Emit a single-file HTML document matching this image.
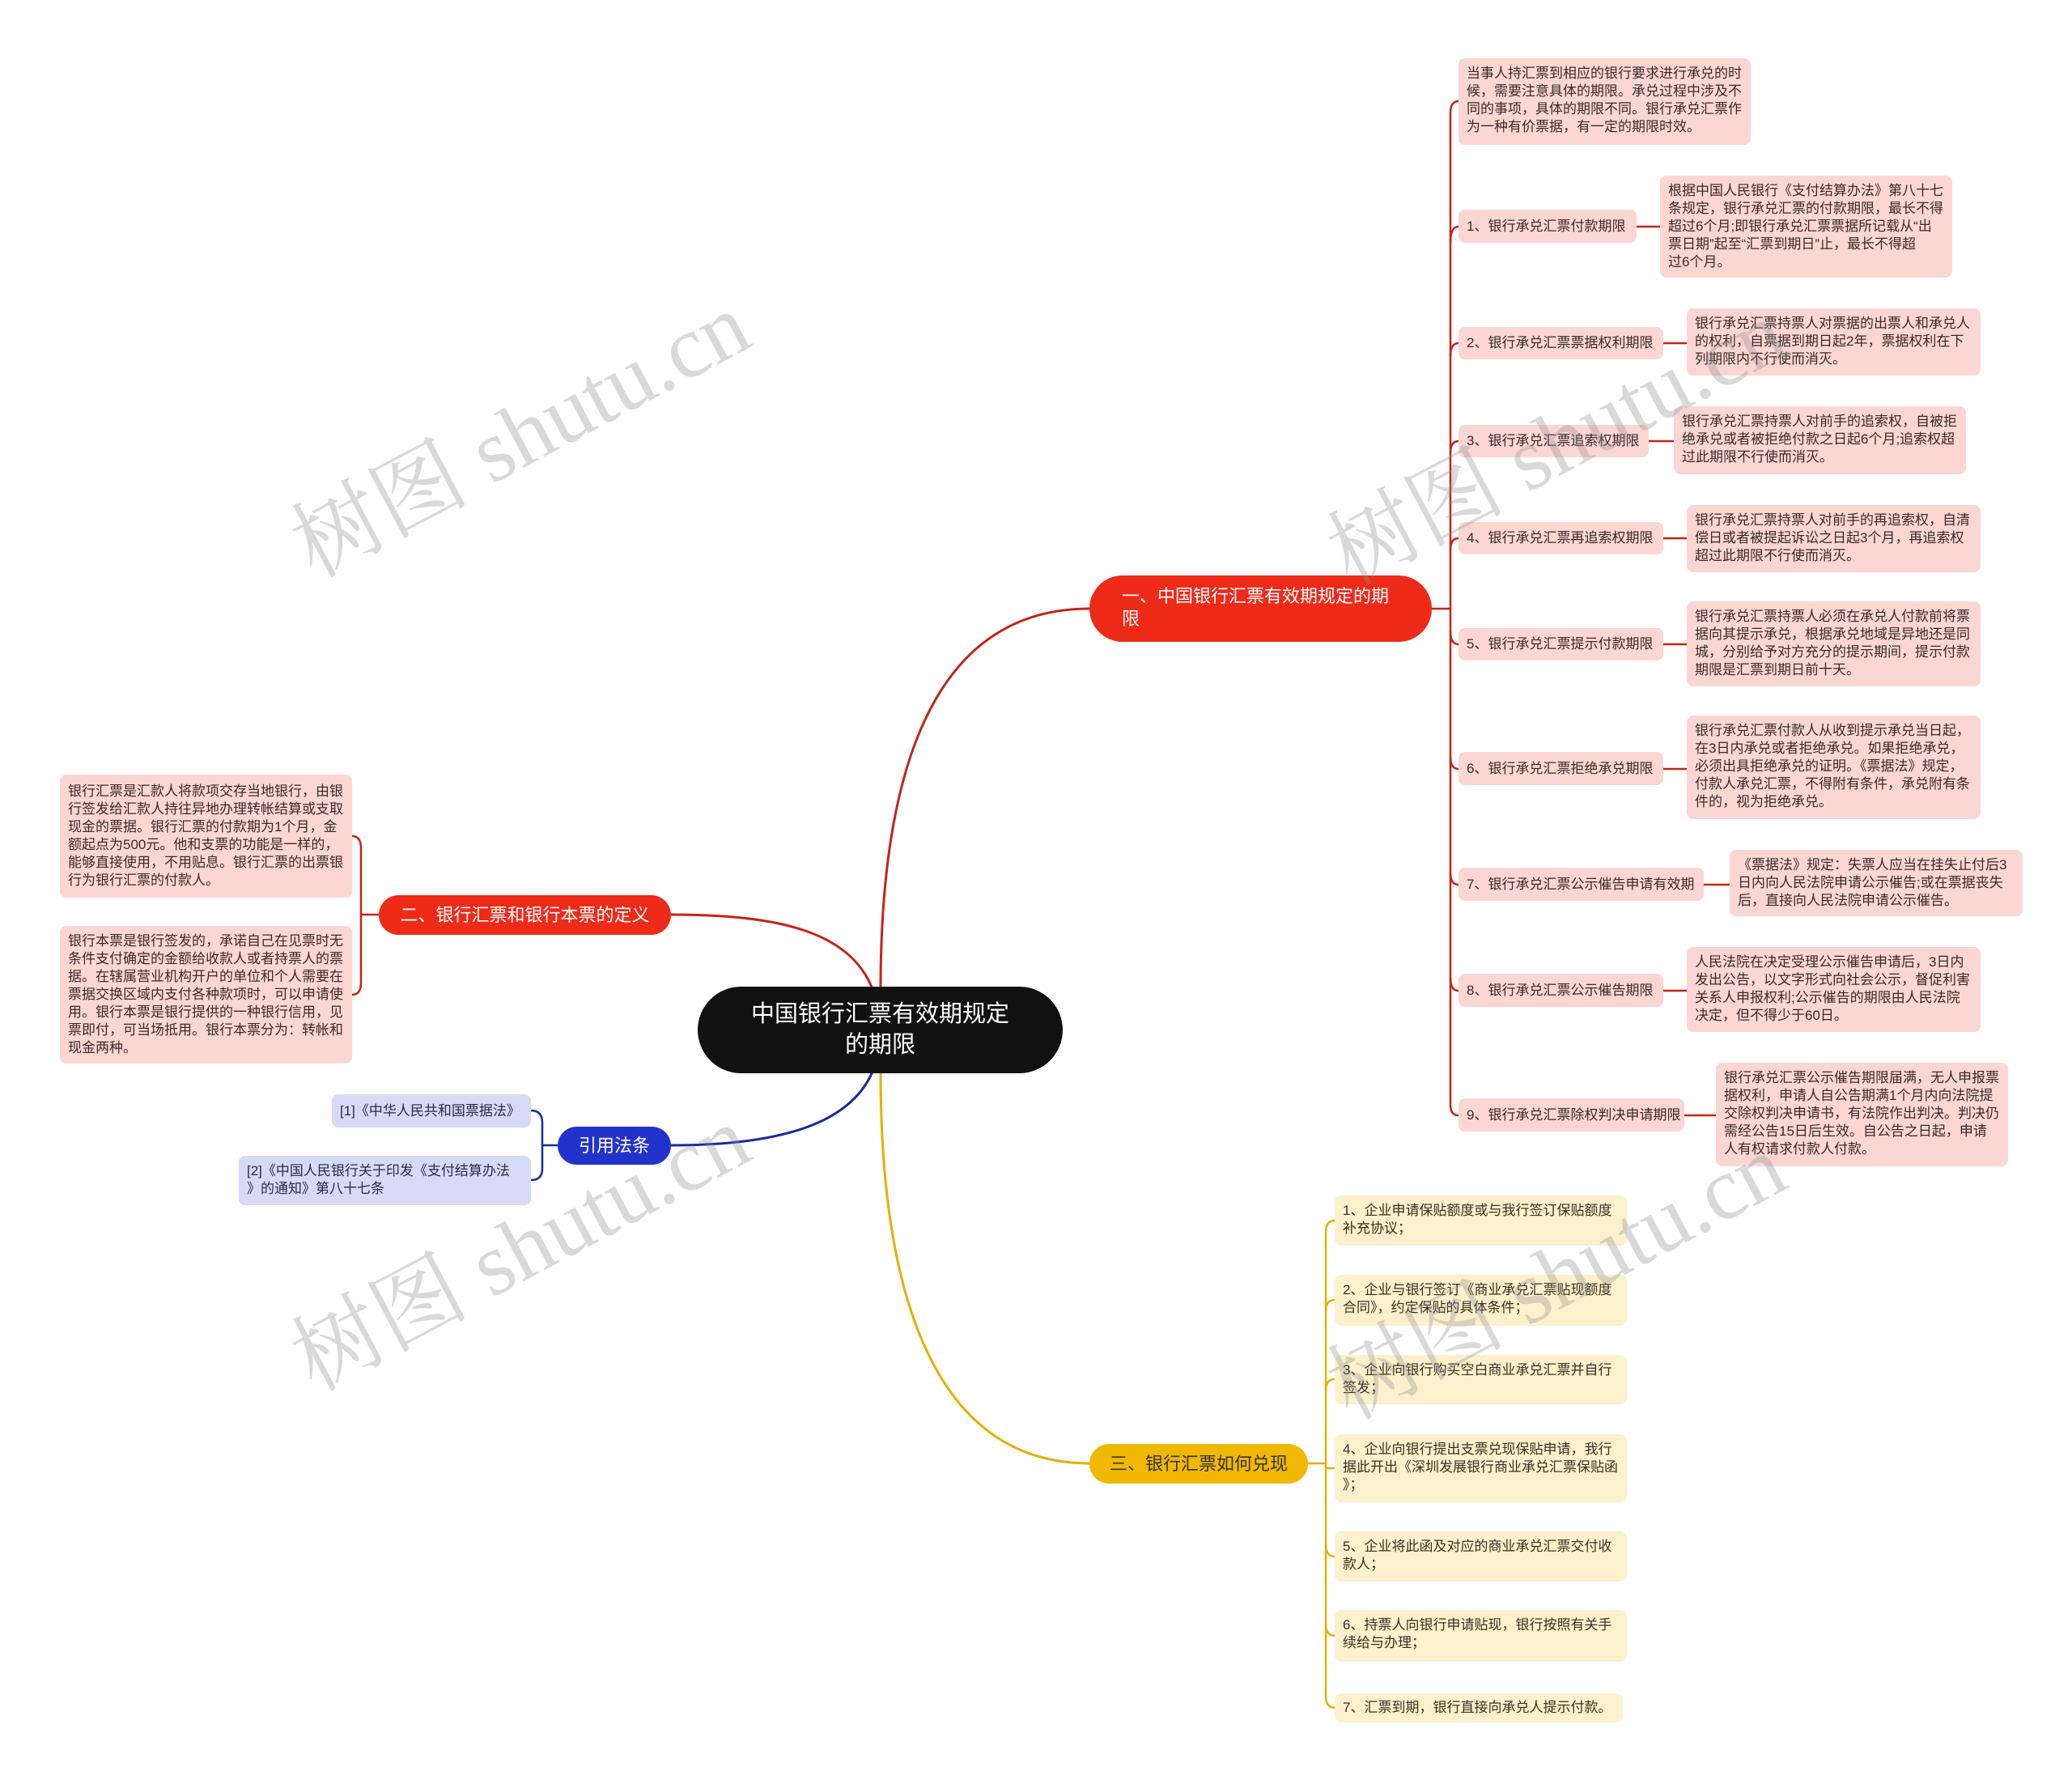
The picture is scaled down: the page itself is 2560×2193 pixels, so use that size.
<!DOCTYPE html>
<html><head><meta charset="utf-8"><style>
body{margin:0;width:2560px;height:2193px;background:#fff;position:relative;overflow:hidden;font-family:"Liberation Sans","Noto Sans CJK SC",sans-serif;}
.n{position:absolute;box-sizing:border-box;white-space:nowrap;}
.r{background:#fcd6d3;color:#3a2a2a;border-radius:8px;font-size:17px;line-height:22px;padding:8px 10px;}
.y{background:#fdf0cc;color:#3a3020;border-radius:8px;font-size:17px;line-height:22px;padding:8px 10px;}
.b{background:#d6daf7;color:#2a2a4a;border-radius:8px;font-size:17px;line-height:22px;padding:8px 10px;}
.lbl{display:flex;align-items:center;}
.wm{position:absolute;font-family:"Liberation Serif","Noto Serif CJK SC",serif;font-size:110px;color:rgba(140,140,140,0.33);transform:rotate(-28deg);white-space:nowrap;transform-origin:center;}
</style></head><body>
<svg width="2560" height="2193" style="position:absolute;left:0;top:0" fill="none">
<!-- root to branches -->
<path d="M1088,1222 C1088,900 1180,752 1346,752" stroke="#c4241a" stroke-width="3"/>
<path d="M1078,1222 C1050,1150 960,1130 829,1130" stroke="#c4241a" stroke-width="3"/>
<path d="M1078,1324 C1050,1390 960,1415 829,1415" stroke="#1a2aa0" stroke-width="3"/>
<path d="M1088,1324 C1088,1650 1180,1808 1346,1808" stroke="#e3b000" stroke-width="3"/>
<g stroke="#c4241a" stroke-width="2.5">
<path d="M1769,752 H1792"/>
<path d="M1792,752 V140 Q1792,125 1802,125"/>
<path d="M1792,752 V1365 Q1792,1378 1802,1378"/>
<path d="M1792,300 Q1792,280 1802,280"/>
<path d="M1792,440 Q1792,424 1802,424"/>
<path d="M1792,560 Q1792,545 1802,545"/>
<path d="M1792,680 Q1792,665 1802,665"/>
<path d="M1792,780 Q1792,796 1802,796"/>
<path d="M1792,935 Q1792,950 1802,950"/>
<path d="M1792,1078 Q1792,1093 1802,1093"/>
<path d="M1792,1208 Q1792,1224 1802,1224"/>
<path d="M2022,280 H2051"/><path d="M2055,424 H2084"/><path d="M2037,545 H2068"/><path d="M2055,665 H2084"/><path d="M2055,796 H2084"/><path d="M2055,950 H2084"/><path d="M2105,1093 H2137"/><path d="M2055,1224 H2084"/><path d="M2081,1378 H2120"/>
</g>
<g stroke="#e3b000" stroke-width="2.5">
<path d="M1616,1808 H1638"/>
<path d="M1638,1808 V1523 Q1638,1508 1649,1508"/>
<path d="M1638,1808 V2095 Q1638,2110 1649,2110"/>
<path d="M1638,1620 Q1638,1606 1649,1606"/>
<path d="M1638,1718 Q1638,1704 1649,1704"/>
<path d="M1649,1814 H1638"/>
<path d="M1638,1908 Q1638,1923 1649,1923"/>
<path d="M1638,2006 Q1638,2021 1649,2021"/>
</g>
<g stroke="#c4241a" stroke-width="2.5">
<path d="M468,1130 H446"/>
<path d="M446,1130 V1048 Q446,1033 435,1033"/>
<path d="M446,1130 V1214 Q446,1229 435,1229"/>
</g>
<g stroke="#1a2aa0" stroke-width="2.5">
<path d="M689,1415 H670"/>
<path d="M670,1415 V1387 Q670,1372 656,1372"/>
<path d="M670,1415 V1444 Q670,1458 656,1458"/>
</g>
</svg>

<div class="n" style="left:862px;top:1219px;width:451px;height:107px;background:#111;border-radius:54px;color:#fff;font-size:29px;line-height:38px;text-align:center;padding-top:15px;">中国银行汇票有效期规定<br>的期限</div>

<div class="n" style="left:1346px;top:711px;width:423px;height:82px;background:#ee2a19;border-radius:41px;color:#fff;font-size:22px;line-height:28px;padding:12px 0 0 40px;">一、中国银行汇票有效期规定的期<br>限</div>
<div class="n" style="left:468px;top:1106px;width:361px;height:49px;background:#ee2a19;border-radius:25px;color:#fff;font-size:22px;line-height:49px;text-align:center;">二、银行汇票和银行本票的定义</div>
<div class="n" style="left:689px;top:1392px;width:140px;height:47px;background:#2233cc;border-radius:24px;color:#fff;font-size:22px;line-height:47px;text-align:center;">引用法条</div>
<div class="n" style="left:1346px;top:1784px;width:270px;height:49px;background:#f0b800;border-radius:25px;color:#333;font-size:22px;line-height:49px;text-align:center;">三、银行汇票如何兑现</div>

<div class="n r" style="left:1802px;top:72px;width:361px;height:107px;">当事人持汇票到相应的银行要求进行承兑的时<br>候，需要注意具体的期限。承兑过程中涉及不<br>同的事项，具体的期限不同。银行承兑汇票作<br>为一种有价票据，有一定的期限时效。</div>

<div class="n r lbl" style="left:1802px;top:259px;width:220px;height:41px;">1、银行承兑汇票付款期限</div>
<div class="n r" style="left:2051px;top:217px;width:361px;height:126px;">根据中国人民银行《支付结算办法》第八十七<br>条规定，银行承兑汇票的付款期限，最长不得<br>超过6个月;即银行承兑汇票票据所记载从“出<br>票日期”起至“汇票到期日”止，最长不得超<br>过6个月。</div>

<div class="n r lbl" style="left:1802px;top:404px;width:253px;height:40px;">2、银行承兑汇票票据权利期限</div>
<div class="n r" style="left:2084px;top:381px;width:363px;height:83px;">银行承兑汇票持票人对票据的出票人和承兑人<br>的权利，自票据到期日起2年，票据权利在下<br>列期限内不行使而消灭。</div>

<div class="n r lbl" style="left:1802px;top:525px;width:235px;height:40px;">3、银行承兑汇票追索权期限</div>
<div class="n r" style="left:2068px;top:502px;width:361px;height:84px;">银行承兑汇票持票人对前手的追索权，自被拒<br>绝承兑或者被拒绝付款之日起6个月;追索权超<br>过此期限不行使而消灭。</div>

<div class="n r lbl" style="left:1802px;top:645px;width:253px;height:40px;">4、银行承兑汇票再追索权期限</div>
<div class="n r" style="left:2084px;top:624px;width:363px;height:83px;">银行承兑汇票持票人对前手的再追索权，自清<br>偿日或者被提起诉讼之日起3个月，再追索权<br>超过此期限不行使而消灭。</div>

<div class="n r lbl" style="left:1802px;top:776px;width:253px;height:40px;">5、银行承兑汇票提示付款期限</div>
<div class="n r" style="left:2084px;top:743px;width:363px;height:105px;">银行承兑汇票持票人必须在承兑人付款前将票<br>据向其提示承兑，根据承兑地域是异地还是同<br>城，分别给予对方充分的提示期间，提示付款<br>期限是汇票到期日前十天。</div>

<div class="n r lbl" style="left:1802px;top:929px;width:253px;height:41px;">6、银行承兑汇票拒绝承兑期限</div>
<div class="n r" style="left:2084px;top:884px;width:363px;height:128px;">银行承兑汇票付款人从收到提示承兑当日起，<br>在3日内承兑或者拒绝承兑。如果拒绝承兑，<br>必须出具拒绝承兑的证明。《票据法》规定，<br>付款人承兑汇票，不得附有条件，承兑附有条<br>件的，视为拒绝承兑。</div>

<div class="n r lbl" style="left:1802px;top:1072px;width:303px;height:41px;">7、银行承兑汇票公示催告申请有效期</div>
<div class="n r" style="left:2137px;top:1050px;width:362px;height:82px;">《票据法》规定：失票人应当在挂失止付后3<br>日内向人民法院申请公示催告;或在票据丧失<br>后，直接向人民法院申请公示催告。</div>

<div class="n r lbl" style="left:1802px;top:1203px;width:253px;height:41px;">8、银行承兑汇票公示催告期限</div>
<div class="n r" style="left:2084px;top:1170px;width:363px;height:105px;">人民法院在决定受理公示催告申请后，3日内<br>发出公告，以文字形式向社会公示，督促利害<br>关系人申报权利;公示催告的期限由人民法院<br>决定，但不得少于60日。</div>

<div class="n r lbl" style="left:1802px;top:1357px;width:279px;height:41px;">9、银行承兑汇票除权判决申请期限</div>
<div class="n r" style="left:2120px;top:1313px;width:361px;height:128px;">银行承兑汇票公示催告期限届满，无人申报票<br>据权利，申请人自公告期满1个月内向法院提<br>交除权判决申请书，有法院作出判决。判决仍<br>需经公告15日后生效。自公告之日起，申请<br>人有权请求付款人付款。</div>

<div class="n y" style="left:1649px;top:1477px;width:361px;height:62px;">1、企业申请保贴额度或与我行签订保贴额度<br>补充协议；</div>
<div class="n y" style="left:1649px;top:1575px;width:361px;height:63px;">2、企业与银行签订《商业承兑汇票贴现额度<br>合同》，约定保贴的具体条件；</div>
<div class="n y" style="left:1649px;top:1674px;width:361px;height:61px;">3、企业向银行购买空白商业承兑汇票并自行<br>签发；</div>
<div class="n y" style="left:1649px;top:1772px;width:361px;height:84px;">4、企业向银行提出支票兑现保贴申请，我行<br>据此开出《深圳发展银行商业承兑汇票保贴函<br>》；</div>
<div class="n y" style="left:1649px;top:1892px;width:361px;height:62px;">5、企业将此函及对应的商业承兑汇票交付收<br>款人；</div>
<div class="n y" style="left:1649px;top:1989px;width:361px;height:64px;">6、持票人向银行申请贴现，银行按照有关手<br>续给与办理；</div>
<div class="n y" style="left:1649px;top:2092px;width:356px;height:36px;padding-top:7px;">7、汇票到期，银行直接向承兑人提示付款。</div>

<div class="n r" style="left:74px;top:957px;width:361px;height:152px;padding-top:10px;">银行汇票是汇款人将款项交存当地银行，由银<br>行签发给汇款人持往异地办理转帐结算或支取<br>现金的票据。银行汇票的付款期为1个月，金<br>额起点为500元。他和支票的功能是一样的，<br>能够直接使用，不用贴息。银行汇票的出票银<br>行为银行汇票的付款人。</div>
<div class="n r" style="left:74px;top:1144px;width:361px;height:170px;padding-top:8px;">银行本票是银行签发的，承诺自己在见票时无<br>条件支付确定的金额给收款人或者持票人的票<br>据。在辖属营业机构开户的单位和个人需要在<br>票据交换区域内支付各种款项时，可以申请使<br>用。银行本票是银行提供的一种银行信用，见<br>票即付，可当场抵用。银行本票分为：转帐和<br>现金两种。</div>

<div class="n b lbl" style="left:410px;top:1352px;width:246px;height:41px;">[1]《中华人民共和国票据法》</div>
<div class="n b" style="left:295px;top:1428px;width:361px;height:61px;">[2]《中国人民银行关于印发《支付结算办法<br>》的通知》第八十七条</div>

<div class="wm" style="left:330px;top:450px;">树图 shutu.cn</div>
<div class="wm" style="left:1610px;top:460px;">树图 shutu.cn</div>
<div class="wm" style="left:330px;top:1455px;">树图 shutu.cn</div>
<div class="wm" style="left:1610px;top:1490px;">树图 shutu.cn</div>
</body></html>
